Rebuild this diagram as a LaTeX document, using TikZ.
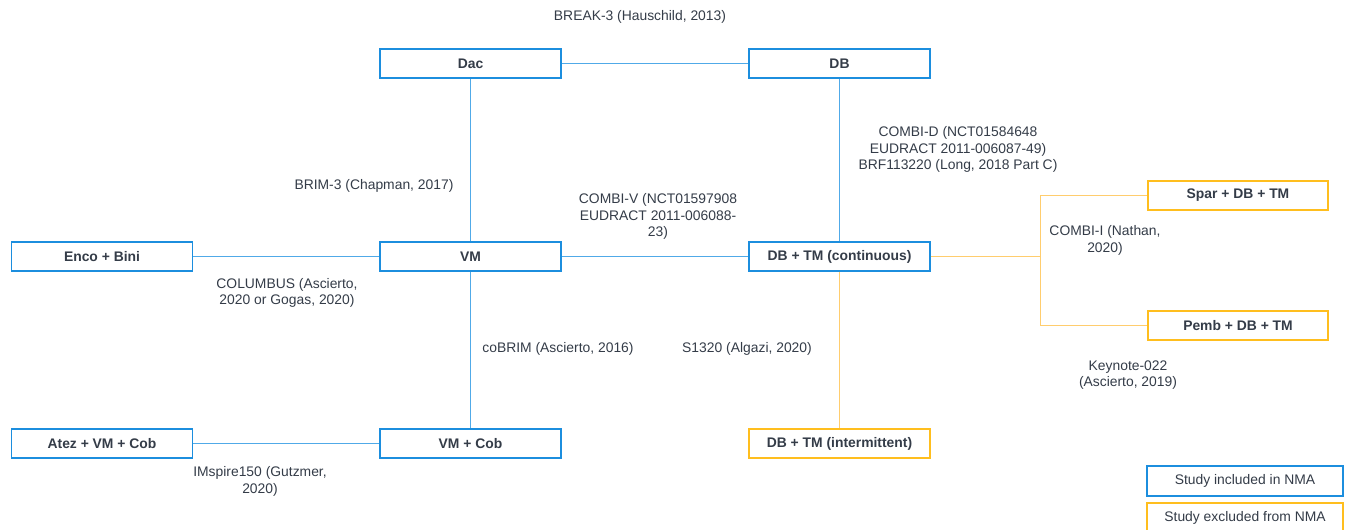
\documentclass[tikz,border=0pt]{standalone}
\usepackage{fontspec}
\setmainfont{Liberation Sans}
\usepackage{tikz}
\usetikzlibrary{positioning}

\definecolor{netblue}{RGB}{28,142,222}
\definecolor{lineblue}{RGB}{80,170,232}
\definecolor{netorange}{RGB}{255,190,30}
\definecolor{lineorange}{RGB}{255,205,110}
\definecolor{netgray}{RGB}{52,60,72}

\tikzset{
	trt/.style = {draw = netblue, line width = 1.1pt, fill = white, text = netgray, font = \fontsize{7.9}{9.4}\selectfont\bfseries, minimum width = 3.62cm, minimum height = 0.58cm, inner sep = 0pt},
	trtx/.style = {trt, draw = netorange},
	study/.style = {text = netgray, font = \fontsize{7.9}{9.4}\selectfont, align = center, inner sep = 0pt},
	inc/.style = {draw = lineblue, line width = 0.6pt},
	exc/.style = {draw = lineorange, line width = 0.6pt}
}

\begin{document}
\begin{tikzpicture}[x = 0.02cm, y = -0.02cm]
		\useasboundingbox (0, 0) rectangle (1348, 530);
		\clip (0, 0) rectangle (1348, 530);
		\node[trt] (dac) at (470.5, 63.5) {Dac};
		\node[trt] (db) at (839.5, 63.5) {DB};
		\node[trt] (enco) at (102, 256.5) {Enco + Bini};
		\node[trt] (vm) at (470.5, 256.5) {VM};
		\node[trt] (dbtm) at (839.5, 256.5) {DB + TM (continuous)};
		\node[trtx, minimum width = 3.6cm] (spar) at (1238, 195.5) {Spar + DB + TM};
		\node[trtx, minimum width = 3.6cm] (pemb) at (1238, 325.5) {Pemb + DB + TM};
		\node[trt] (atez) at (102, 443.5) {Atez + VM + Cob};
		\node[trt] (vmcob) at (470.5, 443.5) {VM + Cob};
		\node[trtx] (dbtmi) at (839.5, 443.5) {DB + TM (intermittent)};
		\draw[inc] (dac) -- (db);
		\draw[inc] (dac) -- (vm);
		\draw[inc] (db) -- (dbtm);
		\draw[inc] (enco) -- (vm);
		\draw[inc] (vm) -- (dbtm);
		\draw[inc] (vm) -- (vmcob);
		\draw[inc] (atez) -- (vmcob);
		\draw[exc] (dbtm) -- (dbtmi);
		\draw[exc] (dbtm.east) -- ++(110, 0) coordinate (fork);
		\draw[exc] (spar.west) -| (fork) |- (pemb.west);
		\node[study] (break) at (640, 17) {BREAK-3 (Hauschild, 2013)};
		\node[study] (brim) at (374, 186) {BRIM-3 (Chapman, 2017)};
		\node[study] (columbus) at (287, 293) {COLUMBUS (Ascierto,\\2020 or Gogas, 2020)};
		\node[study] (combiv) at (658, 216.5) {COMBI-V (NCT01597908\\EUDRACT 2011-006088-\\23)};
		\node[study] (combid) at (958, 149.5) {COMBI-D (NCT01584648\\EUDRACT 2011-006087-49)\\BRF113220 (Long, 2018 Part C)};
		\node[study] (combii) at (1105, 240.5) {COMBI-I (Nathan,\\2020)};
		\node[study] (keynote) at (1128, 375) {Keynote-022\\(Ascierto, 2019)};
		\node[study] (cobrim) at (558, 349) {coBRIM (Ascierto, 2016)};
		\node[study] (s1320) at (747, 349) {S1320 (Algazi, 2020)};
		\node[study] (imspire) at (260, 481.5) {IMspire150 (Gutzmer,\\2020)};
		\node[trt, font = \fontsize{7.9}{9.4}\selectfont, minimum width = 3.92cm, minimum height = 0.6cm] (keyinc) at (1245, 481) {Study included in NMA};
		\node[trtx, font = \fontsize{7.9}{9.4}\selectfont, minimum width = 3.92cm, minimum height = 0.6cm] (keyexc) at (1245, 518) {Study excluded from NMA};
		\end{tikzpicture}
\end{document}
